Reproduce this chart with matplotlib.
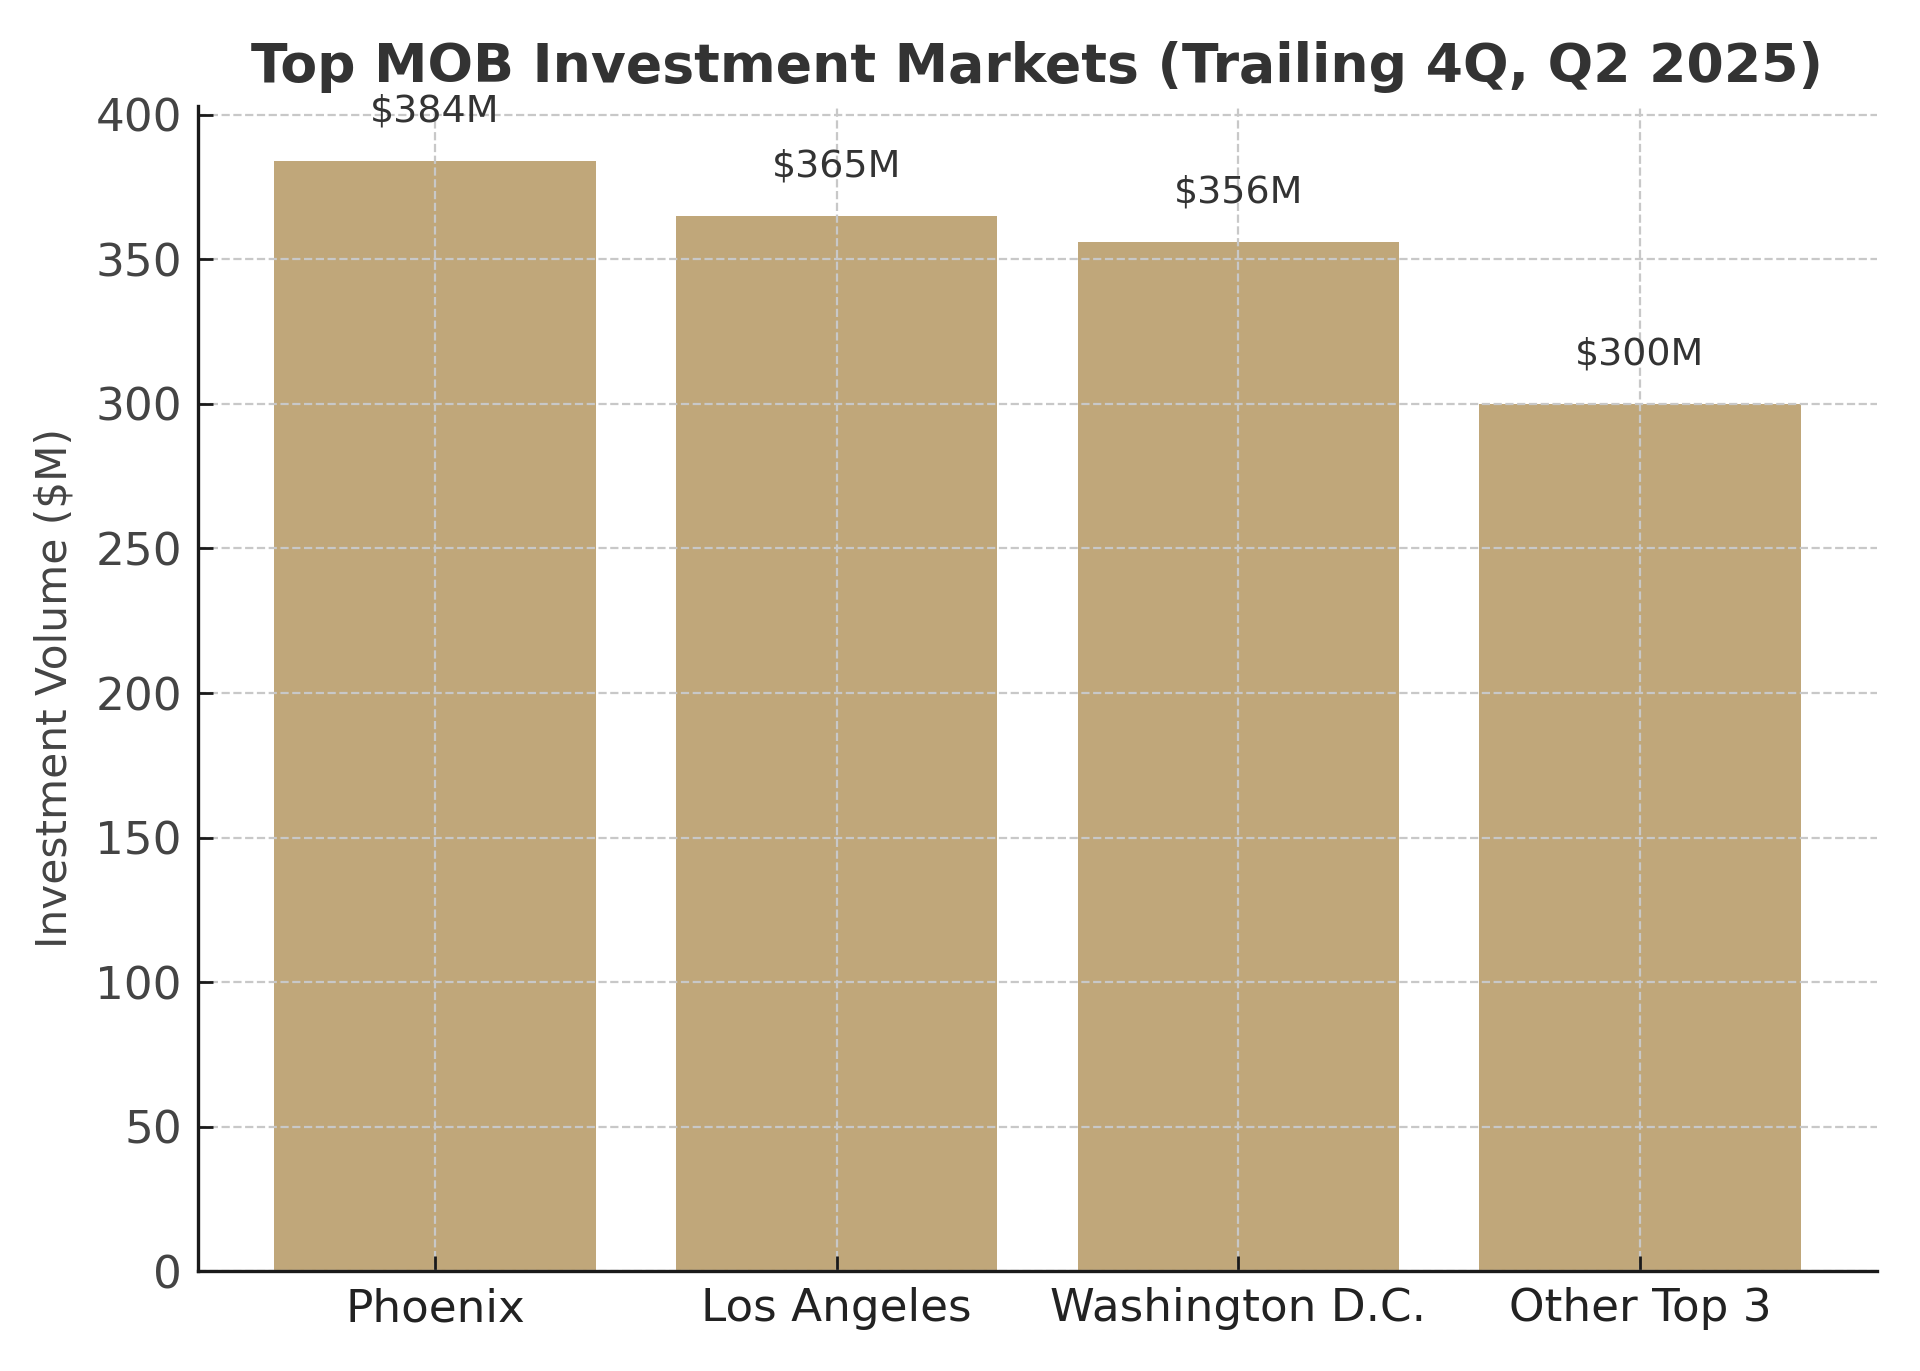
import matplotlib
matplotlib.use("Agg")
import matplotlib.pyplot as plt

markets = ["Phoenix", "Los Angeles", "Washington D.C.", "Other Top 3"]
volumes = [384, 365, 356, 300]
value_labels = ["$384M", "$365M", "$356M", "$300M"]
title = "Top MOB Investment Markets (Trailing 4Q, Q2 2025)"
ylabel = "Investment Volume ($M)"

DPI = 200
fig = plt.figure(figsize=(1920 / DPI, 1371 / DPI), dpi=DPI)
ax = fig.add_axes([0.1031, 0.0729, 0.9776 - 0.1031, 0.9229 - 0.0729])

x = list(range(len(markets)))
ax.bar(x, volumes, width=0.8, color="#C0A77A")
for xi, v, lab in zip(x, volumes, value_labels):
    ax.text(xi, v + 11, lab, ha="center", va="bottom", fontsize=13.7,
            color="#333333", zorder=3)

ax.set_xticks(x)
ax.set_xticklabels(markets)
ax.set_yticks(range(0, 401, 50))
ax.set_title(title, fontsize=19.3, fontweight="bold", color="#333333", pad=8.5)
ax.set_ylabel(ylabel, fontsize=15.2, color="#444444", labelpad=7)

ax.grid(True, linestyle="--", linewidth=0.8, color="#c8c8c8")
for s in ["top", "right"]:
    ax.spines[s].set_visible(False)
for s in ["left", "bottom"]:
    ax.spines[s].set_linewidth(1.2)
    ax.spines[s].set_color("#1a1a1a")

ax.tick_params(axis="both", direction="in", length=5.4, width=1.0,
               color="#1a1a1a", pad=5.8)
ax.tick_params(axis="y", labelsize=16.3, labelcolor="#444444")
ax.tick_params(axis="x", labelsize=16.3, labelcolor="#222222")

fig.savefig("out.png", dpi=DPI)
